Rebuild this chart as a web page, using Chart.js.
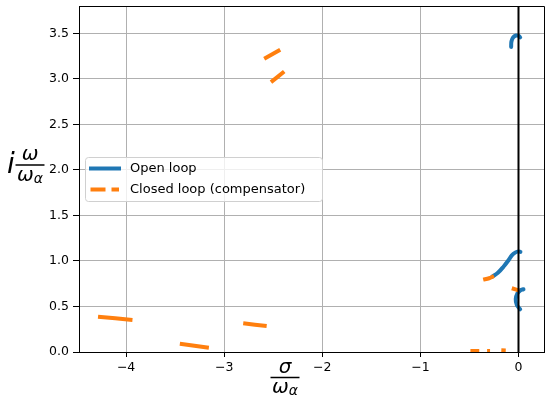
<!DOCTYPE html>
<html>
<head>
<meta charset="utf-8">
<script src="https://cdn.jsdelivr.net/npm/chart.js@4.4.0/dist/chart.umd.min.js"></script>
<style>
  html, body { margin: 0; padding: 0; background: #fff; }
</style>
</head>
<body>
<canvas id="myChart" width="550" height="400"></canvas>
<script>
// axis setup
const xTicks = [-4, -3, -2, -1, 0];
const yTicks = [0, 0.5, 1, 1.5, 2, 2.5, 3, 3.5];
const xRange = [-4.48, 0.26];
const yRange = [0, 3.8];
const zeroLineX = 0;

// open loop branches: [sigma/omega_a, omega/omega_a]
const openTop = [[-0.075, 3.35], [-0.072, 3.41], [-0.055, 3.455], [-0.025, 3.476], [0.0, 3.473], [0.017, 3.455]];
const openMid = [[-0.27, 0.825], [-0.21, 0.87], [-0.153, 0.937], [-0.10, 1.01], [-0.068, 1.062], [-0.03, 1.094], [0.0, 1.105], [0.02, 1.10]];
const openLow = [[0.051, 0.689], [0.02, 0.678], [-0.01, 0.645], [-0.028, 0.58], [-0.017, 0.516], [0.017, 0.469]];

// closed loop (compensator) pieces
const closedA = [[-4.286, 0.388], [-3.935, 0.352]];
const closedB = [[-3.452, 0.091], [-3.156, 0.047]];
const closedC = [[-2.806, 0.315], [-2.567, 0.286]];
const closedD = [[-2.592, 3.22], [-2.429, 3.319]];
const closedE = [[-2.523, 2.964], [-2.388, 3.08]];
const closedF = [[-0.36, 0.795], [-0.30, 0.81], [-0.25, 0.835]];
const closedG = [[-0.068, 0.70], [0.007, 0.674]];
const closedBottom = [[-0.49, 0.012], [-0.40, 0.012], null, [-0.32, 0.010], [-0.29, 0.010], null, [-0.175, 0.018], [-0.13, 0.016]];

const BLUE = "#1f77b4";
const ORANGE = "#ff7f0e";

function pts(arr) {
  return arr.map(p => p ? { x: p[0], y: p[1] } : { x: null, y: null });
}

function minusFmt(v) {
  return v < 0 ? "\u2212" + Math.abs(v) : String(v);
}

const datasets = [];
// vertical line at zero (drawn on top)
datasets.push({
  data: [{ x: zeroLineX, y: yRange[0] }, { x: zeroLineX, y: yRange[1] }],
  borderColor: "#000", borderWidth: 2
});
[closedA, closedB, closedC, closedD, closedE, closedF, closedG].forEach(function(c) {
  datasets.push({ data: pts(c), borderColor: ORANGE, borderWidth: 4, borderCapStyle: "butt", tension: 0.3 });
});
datasets.push({ data: pts(closedBottom), borderColor: ORANGE, borderWidth: 4, borderCapStyle: "butt", spanGaps: false });
[openTop, openMid, openLow].forEach(function(c) {
  datasets.push({ data: pts(c), borderColor: BLUE, borderWidth: 4, borderCapStyle: "round", tension: 0.35 });
});
datasets.forEach(function(d) {
  d.showLine = true;
  d.pointRadius = 0;
  d.fill = false;
  d.clip = 0;
});

// fraction label like matplotlib mathtext
function drawFrac(ctx, cx, barY, num, den, sub, size, subSize) {
  ctx.save();
  ctx.fillStyle = "#000";
  ctx.textBaseline = "alphabetic";
  ctx.font = "italic " + size + "px 'DejaVu Sans'";
  const wn = ctx.measureText(num).width;
  const wd = ctx.measureText(den).width;
  ctx.font = "italic " + subSize + "px 'DejaVu Sans'";
  const ws = ctx.measureText(sub).width;
  const wDen = wd + ws;
  const barW = Math.max(wn, wDen) + 3;
  ctx.fillRect(cx - barW / 2, barY - 0.75, barW, 1.5);
  ctx.font = "italic " + size + "px 'DejaVu Sans'";
  ctx.fillText(num, cx - wn / 2, barY - 5);
  ctx.fillText(den, cx - wDen / 2, barY + size * 0.78);
  ctx.font = "italic " + subSize + "px 'DejaVu Sans'";
  ctx.fillText(sub, cx - wDen / 2 + wd, barY + size * 0.78 + 2);
  ctx.restore();
}

const decorPlugin = {
  id: "decor",
  afterDraw: function(chart) {
    const ctx = chart.ctx;
    const a = chart.chartArea;
    ctx.save();
    // top and right spines
    ctx.strokeStyle = "#000";
    ctx.lineWidth = 1;
    ctx.beginPath();
    ctx.moveTo(a.left, a.top + 0.5);
    ctx.lineTo(a.right + 0.5, a.top + 0.5);
    ctx.lineTo(a.right + 0.5, a.bottom);
    ctx.stroke();

    // legend
    const lx = 85, ly = 157, lw = 237, lh = 44;
    ctx.fillStyle = "rgba(255,255,255,0.8)";
    ctx.strokeStyle = "#d0d0d0";
    ctx.beginPath();
    ctx.roundRect(lx + 0.5, ly + 0.5, lw, lh, 3);
    ctx.fill();
    ctx.stroke();

    ctx.lineWidth = 4;
    ctx.strokeStyle = BLUE;
    ctx.lineCap = "butt";
    ctx.beginPath();
    ctx.moveTo(89, 168.5);
    ctx.lineTo(121, 168.5);
    ctx.stroke();

    ctx.strokeStyle = ORANGE;
    ctx.setLineDash([15, 6]);
    ctx.beginPath();
    ctx.moveTo(90.5, 189.5);
    ctx.lineTo(119, 189.5);
    ctx.stroke();
    ctx.setLineDash([]);

    ctx.fillStyle = "#000";
    ctx.font = "13px 'DejaVu Sans'";
    ctx.textBaseline = "middle";
    ctx.fillText("Open loop", 130, 168.5);
    ctx.fillText("Closed loop (compensator)", 130, 189.5);

    // axis labels
    ctx.font = "italic 28px 'DejaVu Sans'";
    ctx.textBaseline = "alphabetic";
    ctx.fillText("i", 7, 173);
    ctx.restore();
    drawFrac(ctx, 30, 165, "\u03c9", "\u03c9", "\u03b1", 20, 14);
    drawFrac(ctx, 285, 377.5, "\u03c3", "\u03c9", "\u03b1", 20, 14);
  }
};

const config = {
  type: "scatter",
  data: { datasets: datasets },
  options: {
    responsive: false,
    animation: false,
    layout: { padding: { top: 6, right: 6, left: 0, bottom: 0 } },
    plugins: {
      legend: { display: false },
      tooltip: { enabled: false }
    },
    scales: {
      x: {
        type: "linear",
        min: xRange[0],
        max: xRange[1],
        afterBuildTicks: function(scale) {
          scale.ticks = xTicks.map(v => ({ value: v }));
        },
        afterFit: function(scale) {
          scale.height = 48;
          scale.paddingLeft = 0;
          scale.paddingRight = 0;
        },
        grid: { color: "#b0b0b0", lineWidth: 1, tickColor: "#000", tickLength: 5 },
        border: { color: "#000", width: 1 },
        ticks: {
          color: "#000",
          padding: 3,
          maxRotation: 0,
          font: { family: "DejaVu Sans", size: 12.5 },
          callback: minusFmt
        }
      },
      y: {
        type: "linear",
        min: yRange[0],
        max: yRange[1],
        afterBuildTicks: function(scale) {
          scale.ticks = yTicks.map(v => ({ value: v }));
        },
        afterFit: function(scale) {
          scale.width = 79;
          scale.paddingTop = 0;
          scale.paddingBottom = 0;
        },
        grid: { color: "#b0b0b0", lineWidth: 1, tickColor: "#000", tickLength: 6 },
        border: { color: "#000", width: 1 },
        ticks: {
          color: "#000",
          padding: 4,
          font: { family: "DejaVu Sans", size: 12.5 },
          callback: function(v) { return v.toFixed(1); }
        }
      }
    }
  },
  plugins: [decorPlugin]
};

var myChart = new Chart(document.getElementById("myChart"), config);
</script>
</body>
</html>
